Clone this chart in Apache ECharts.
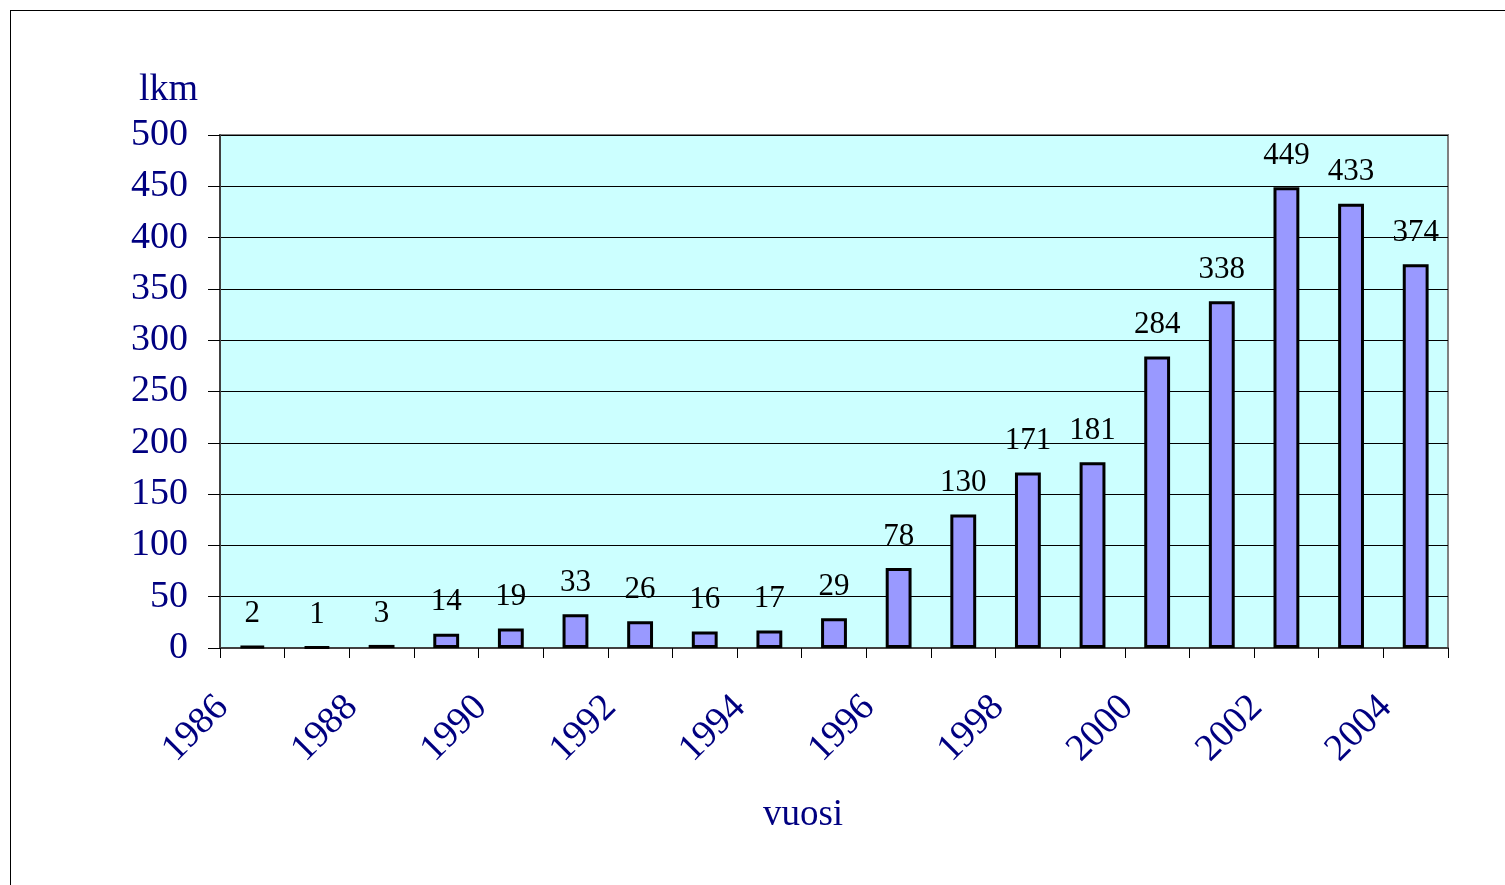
<!DOCTYPE html>
<html>
<head>
<meta charset="utf-8">
<script src="https://cdn.jsdelivr.net/npm/echarts@6/dist/echarts.min.js"></script>
<style>
  html, body { margin: 0; padding: 0; background: #fff; }
  #frame { position: absolute; left: 10px; top: 10px; width: 1600px; height: 1000px; border-left: 1px solid #000; border-top: 1px solid #000; }
  #main { position: absolute; left: 0; top: 0; width: 1505px; height: 885px; }
</style>
</head>
<body>
<div id="frame"></div>
<div id="main"></div>
<script>
// vuodet ja lukumäärät
var years = ['1986','1987','1988','1989','1990','1991','1992','1993','1994','1995',
             '1996','1997','1998','1999','2000','2001','2002','2003','2004'];
var counts = [2, 1, 3, 14, 19, 33, 26, 16, 17, 29, 78, 130, 171, 181, 284, 338, 449, 433, 374];
var yTicks = [0, 50, 100, 150, 200, 250, 300, 350, 400, 450, 500];

var navy = '#000080';
var serif = '"Liberation Serif", "Times New Roman", serif';

var myChart = echarts.init(document.getElementById('main'));
var option = {
    animation: false,
    grid: {
        left: 220, right: 57, top: 135, bottom: 237,
        show: true,
        backgroundColor: '#CCFFFF',
        borderColor: '#808080',
        borderWidth: 2
    },
    xAxis: {
        type: 'category',
        data: years,
        name: 'vuosi',
        nameLocation: 'middle',
        nameGap: 149,
        nameTextStyle: { color: navy, fontFamily: serif, fontSize: 37, padding: [0, 62, 0, 0] },
        axisLine: { lineStyle: { color: '#404040', width: 2 } },
        axisTick: { show: true, interval: 0, length: 10, lineStyle: { color: '#000', width: 1 } },
        axisLabel: {
            interval: 1,
            rotate: 45,
            margin: 24,
            padding: [0, 42, 0, 0],
            color: navy,
            fontFamily: serif,
            fontSize: 38
        },
        splitLine: { show: false }
    },
    yAxis: {
        type: 'value',
        min: yTicks[0],
        max: yTicks[yTicks.length - 1],
        interval: 50,
        name: 'lkm',
        nameLocation: 'end',
        nameGap: 26,
        nameTextStyle: { color: navy, fontFamily: serif, fontSize: 38, align: 'right', padding: [0, 22, 0, 0] },
        axisLine: { show: true, lineStyle: { color: '#404040', width: 2 } },
        axisTick: { show: true, length: 12, inside: false, lineStyle: { color: '#000', width: 1 } },
        axisLabel: { margin: 32, color: navy, fontFamily: serif, fontSize: 38 },
        splitLine: { show: true, lineStyle: { color: '#000', width: 1 } }
    },
    series: [{
        name: 'lkm',
        type: 'bar',
        data: counts,
        barWidth: '40%',
        itemStyle: { color: '#9999FF', borderColor: '#000', borderWidth: 3 },
        label: {
            show: true,
            position: 'top',
            distance: 16,
            color: '#000',
            fontFamily: serif,
            fontSize: 31
        }
    }]
};
myChart.setOption(option);
</script>
</body>
</html>
